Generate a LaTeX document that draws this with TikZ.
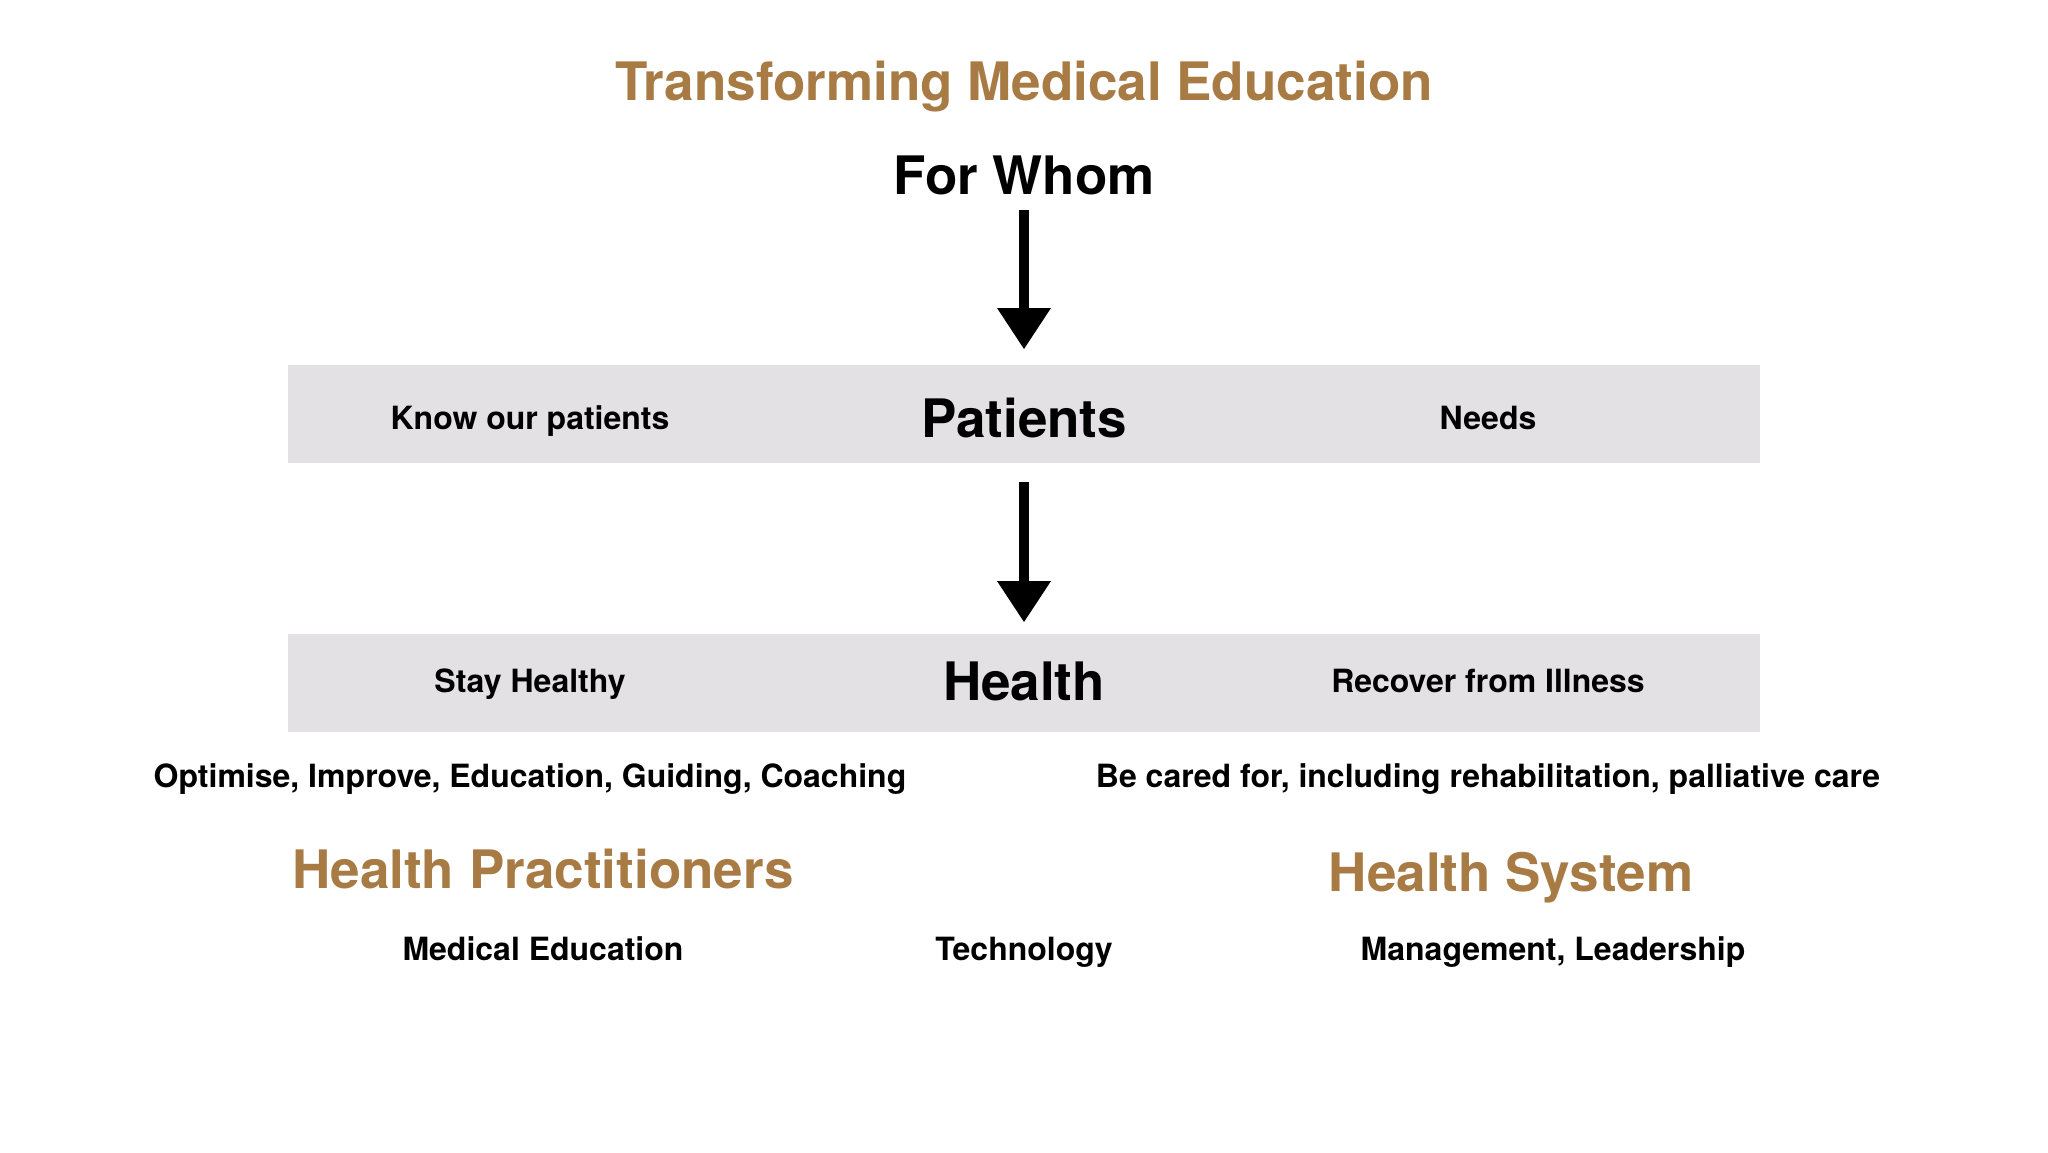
\documentclass[tikz,border=0pt]{standalone}
\usepackage{fontspec}
\setmainfont{TeX Gyre Heros}
\usetikzlibrary{arrows.meta,calc}
\definecolor{gold}{HTML}{A87B45}
\definecolor{bandgrey}{HTML}{E3E1E4}
\tikzset{
  big/.style={font=\bfseries\fontsize{53}{60}\selectfont, anchor=base, inner sep=0pt},
  goldbig/.style={big, text=gold},
  small/.style={font=\bfseries\fontsize{32}{38}\selectfont, anchor=base, inner sep=0pt},
  band/.style={rectangle, fill=bandgrey, draw=none, minimum width=1472pt, minimum height=98pt, inner sep=0pt},
  shaft/.style={line width=10pt, black},
}
\begin{document}
\begin{tikzpicture}[x=1pt,y=-1pt]
\fill[white] (0,0) rectangle (2048,1152);
\useasboundingbox (0,0) rectangle (2048,1152);

\node[goldbig] (title) at (1024,100) {Transforming Medical Education};
\node[big] (forwhom) at (1024,194) {For Whom};

\node[band] (band1) at (1024,414) {};
\node[small] (know) at (530,429) {Know our patients};
\node[big] (patients) at (1024,437) {Patients};
\node[small] (needs) at (1488,429) {Needs};

\node[band] (band2) at (1024,683) {};
\node[small] (stay) at (530,692) {Stay Healthy};
\node[big] (health) at (1024,700) {Health};
\node[small] (recover) at (1488,692) {Recover from Illness};

\node[small] (optimise) at (530,787) {Optimise, Improve, Education, Guiding, Coaching};
\node[small] (cared) at (1488,787) {Be cared for, including rehabilitation, palliative care};

\node[goldbig] (practitioners) at (543,888) {Health Practitioners};
\node[goldbig] (system) at (1511,891) {Health System};

\node[small] (mededu) at (543,960) {Medical Education};
\node[small] (tech) at (1024,960) {Technology};
\node[small] (mgmt) at (1553,960) {Management, Leadership};

\coordinate (a1s) at (1024,210);
\coordinate (a1e) at (1024,349);
\coordinate (a2s) at (1024,482);
\coordinate (a2e) at (1024,622);
\draw[shaft] (a1s) -- ($(a1e)+(0,-37)$);
\draw[shaft] (a2s) -- ($(a2e)+(0,-37)$);
\fill ($(a1e)+(-27,-41)$) -- ($(a1e)+(27,-41)$) -- (a1e) -- cycle;
\fill ($(a2e)+(-27,-41)$) -- ($(a2e)+(27,-41)$) -- (a2e) -- cycle;
\end{tikzpicture}
\end{document}
